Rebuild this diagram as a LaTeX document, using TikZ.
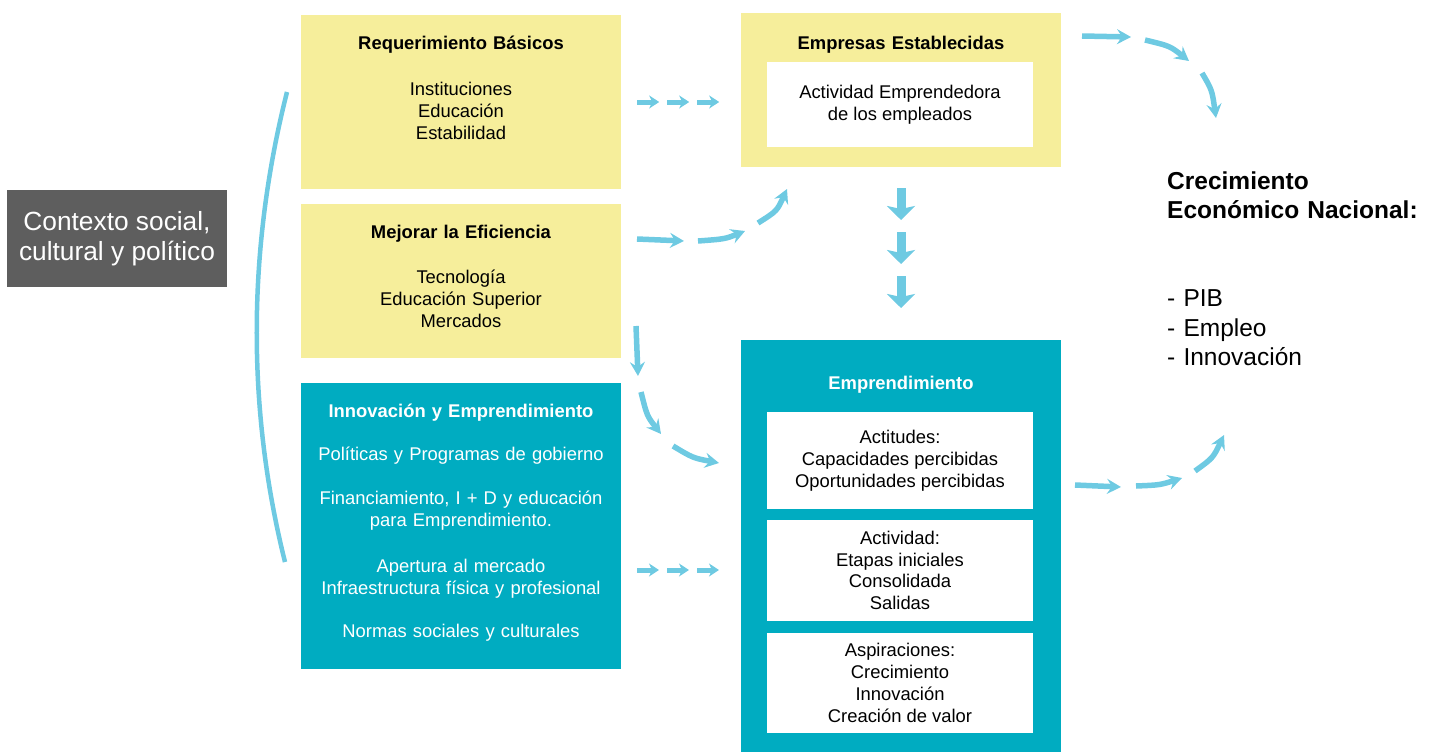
\documentclass[tikz,border=0pt]{standalone}
\usepackage{fontspec}
\setmainfont{Liberation Sans}
\usetikzlibrary{arrows.meta}
\definecolor{pale}{RGB}{246,238,155}
\definecolor{gemteal}{RGB}{0,172,193}
\definecolor{flowblue}{RGB}{110,202,226}
\definecolor{ctxgray}{RGB}{94,94,94}
\newcommand{\bodyfont}{\fontsize{18.4}{21.8}\selectfont}
\newcommand{\bigfont}{\fontsize{26.3}{30}\selectfont}
\newcommand{\goalfont}{\fontsize{24.5}{29.5}\selectfont}

\begin{document}
\begin{tikzpicture}
[x=1pt, y=-1pt,
 pillar/.style ={rectangle, fill=pale, inner sep=0pt, minimum width=320pt},
 tealbox/.style ={rectangle, fill=gemteal, inner sep=0pt, minimum width=320pt},
 inner/.style ={rectangle, fill=white, inner sep=0pt, minimum width=266pt, align=center, font=\bodyfont},
 ctx/.style ={rectangle, fill=ctxgray, text=white, inner sep=0pt, minimum width=220pt, minimum height=97pt, align=center, font=\bigfont},
 boxtext/.style ={anchor=base, inner sep=0pt, text width=320pt, align=center, font=\bodyfont},
 sflow/.style ={draw=flowblue, line width=5pt, -{Stealth[length=10pt, width=13pt, inset=3pt]}},
 cflow/.style ={draw=flowblue, line width=5.5pt, -{Stealth[length=14pt, width=15pt, inset=5pt]}},
 bigflow/.style ={draw=flowblue, line width=9pt, -{Stealth[length=14pt, width=28pt, inset=3pt]}}]
\useasboundingbox (0, 0) rectangle (1434, 752);

% context and bracket
\draw (117, 238.5) node[ctx] (ctx) {Contexto social,\\cultural y político};
\draw[flowblue, line width=4.5pt] (287, 92) .. controls (247, 250) and (247, 410) .. (285, 562);

% pillars
\draw (461, 102) node[pillar, minimum height=174pt] (req) {};
\draw (461, 50) node[boxtext] (reqtxt) {\textbf{Requerimiento Básicos}\\[24pt]Instituciones\\Educación\\Estabilidad};
\draw (461, 281) node[pillar, minimum height=154pt] (mej) {};
\draw (461, 238) node[boxtext] (mejtxt) {\textbf{Mejorar la Eficiencia}\\[24pt]Tecnología\\Educación Superior\\Mercados};
\draw (461, 526) node[tealbox, minimum height=286pt] (inn) {};
\draw (461, 417) node[boxtext, text=white] (inntxt) {\textbf{Innovación y Emprendimiento}\\[22pt]Políticas y Programas de gobierno\\[22pt]Financiamiento, I + D y educación\\para Emprendimiento.\\[24pt]Apertura al mercado\\Infraestructura física y profesional\\[22pt]Normas sociales y culturales};

% established firms
\draw (901, 90) node[pillar, minimum height=154pt] (emp) {};
\draw (901, 50) node[boxtext] (emptxt) {\textbf{Empresas Establecidas}};
\draw (900, 104.5) node[inner, minimum height=85pt] (empin) {Actividad Emprendedora\\de los empleados};

% entrepreneurship
\draw (901, 546) node[tealbox, minimum height=412pt] (ent) {};
\draw (901, 389) node[boxtext, text=white] (enttxt) {\textbf{Emprendimiento}};
\draw (900, 460.5) node[inner, minimum height=97pt] (att) {Actitudes:\\Capacidades percibidas\\Oportunidades percibidas};
\draw (900, 570.5) node[inner, minimum height=101pt] (act) {Actividad:\\Etapas iniciales\\Consolidada\\Salidas};
\draw (900, 683) node[inner, minimum height=100pt] (asp) {Aspiraciones:\\Crecimiento\\Innovación\\Creación de valor};

% outcome
\draw (1167, 189) node[anchor=base west, inner sep=0pt, text width=260pt, align=left, font=\goalfont] (growth) {\textbf{Crecimiento}\\\textbf{Económico Nacional:}\\[58.5pt]- PIB\\- Empleo\\- Innovación};

% arrows
\foreach \d in {0, 30, 60} {
  \draw[sflow] ([xshift=16pt+\d pt]req.east) -- ++(22, 0);
  \draw[sflow] (637+\d, 570) -- ++(22, 0);
}
\foreach \y in {188, 232, 276}
  \draw[bigflow] (901, \y) -- ++(0, 32);

\draw[cflow] (637, 239) -- (684, 241);
\draw[cflow] (698, 241) .. controls (725, 239) .. (745, 231);
\draw[cflow] (758, 223) .. controls (777, 211) .. (787, 189);

\draw[cflow] (636, 326) -- (638, 376);
\draw[cflow] (641, 392) .. controls (647, 416) .. (661, 434);
\draw[cflow] (673, 446) .. controls (693, 458) .. (719, 463);

\draw[cflow] (1082, 36) -- (1131, 37);
\draw[cflow] (1145, 40) .. controls (1170, 46) .. (1189, 61);
\draw[cflow] (1202, 73) .. controls (1212, 90) .. (1216, 118);

\draw[cflow] (1075, 485) -- (1121, 487);
\draw[cflow] (1136, 486) .. controls (1160, 485) .. (1182, 478);
\draw[cflow] (1195, 471) .. controls (1213, 458) .. (1224, 435);
\end{tikzpicture}
\end{document}
